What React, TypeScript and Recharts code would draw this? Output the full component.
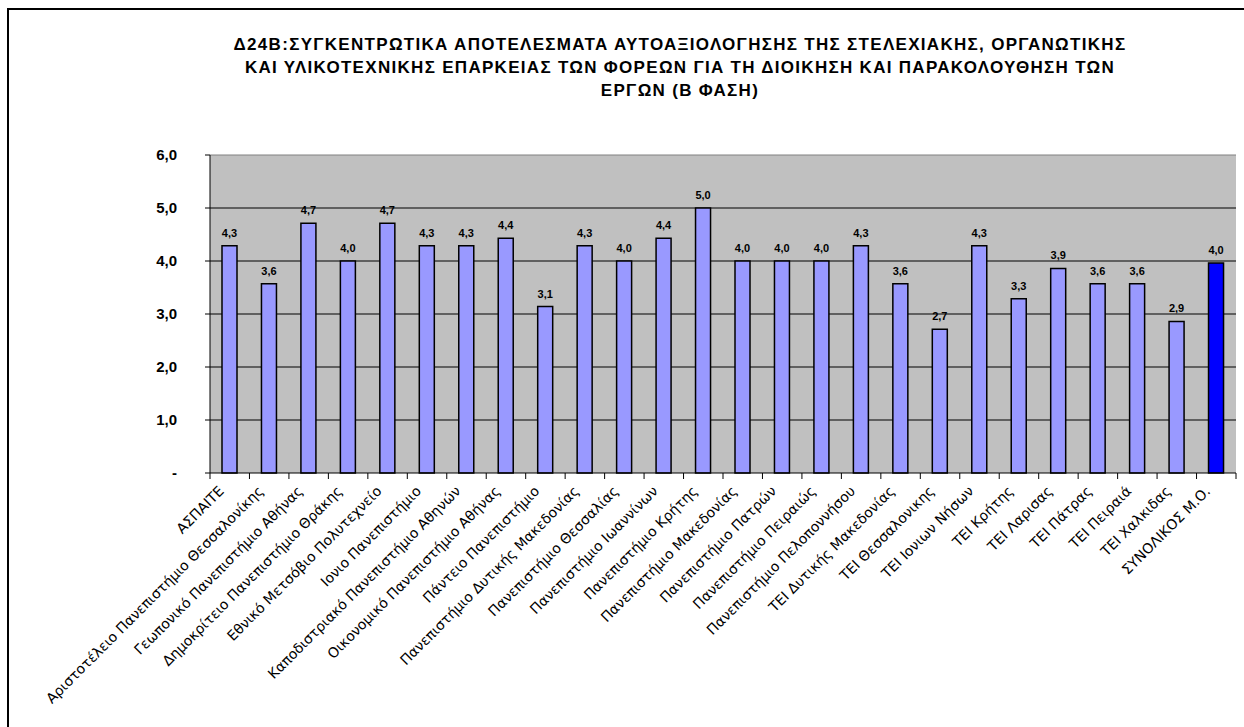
import React from 'react';
import { BarChart, Bar, XAxis, YAxis, CartesianGrid, Cell, LabelList, ReferenceLine } from 'recharts';

const categories = [
  'ΑΣΠΑΙΤΕ',
  'Αριστοτέλειο Πανεπιστήμιο Θεσσαλονίκης',
  'Γεωπονικό Πανεπιστήμιο Αθήνας',
  'Δημοκρίτειο Πανεπιστήμιο Θράκης',
  'Εθνικό Μετσόβιο Πολυτεχνείο',
  'Ιονιο Πανεπιστήμιο',
  'Καποδιστριακό Πανεπιστήμιο Αθηνών',
  'Οικονομικό Πανεπιστήμιο Αθήνας',
  'Πάντειο Πανεπιστήμιο',
  'Πανεπιστήμιο Δυτικής Μακεδονίας',
  'Πανεπιστήμιο Θεσσαλίας',
  'Πανεπιστήμιο Ιωαννίνων',
  'Πανεπιστήμιο Κρήτης',
  'Πανεπιστήμιο Μακεδονίας',
  'Πανεπιστήμιο Πατρών',
  'Πανεπιστήμιο Πειραιώς',
  'Πανεπιστήμιο Πελοποννήσου',
  'ΤΕΙ Δυτικής Μακεδονίας',
  'ΤΕΙ Θεσσαλονικης',
  'ΤΕΙ Ιονιων Νήσων',
  'ΤΕΙ Κρήτης',
  'ΤΕΙ Λαρισας',
  'ΤΕΙ Πάτρας',
  'ΤΕΙ Πειραιά',
  'ΤΕΙ Χαλκιδας',
  'ΣΥΝΟΛΙΚΟΣ Μ.Ο.',
];

const scores = [
  4.29, 3.57, 4.71, 4.0, 4.71, 4.29, 4.29, 4.43, 3.14, 4.29, 4.0, 4.43, 5.0,
  4.0, 4.0, 4.0, 4.29, 3.57, 2.71, 4.29, 3.29, 3.86, 3.57, 3.57, 2.86, 3.96,
];

const yTicks = [0, 1, 2, 3, 4, 5, 6];

const titleLines = [
  'Δ24Β:ΣΥΓΚΕΝΤΡΩΤΙΚΑ ΑΠΟΤΕΛΕΣΜΑΤΑ ΑΥΤΟΑΞΙΟΛΟΓΗΣΗΣ ΤΗΣ ΣΤΕΛΕΧΙΑΚΗΣ, ΟΡΓΑΝΩΤΙΚΗΣ',
  'ΚΑΙ ΥΛΙΚΟΤΕΧΝΙΚΗΣ ΕΠΑΡΚΕΙΑΣ ΤΩΝ ΦΟΡΕΩΝ ΓΙΑ ΤΗ ΔΙΟΙΚΗΣΗ ΚΑΙ ΠΑΡΑΚΟΛΟΥΘΗΣΗ ΤΩΝ',
  'ΕΡΓΩΝ (Β ΦΑΣΗ)',
];

const data = categories.map((name, i) => ({ name, value: scores[i] }));

const fmt = (v: number) => (v === 0 ? '-' : v.toFixed(1).replace('.', ','));

function CategoryTick(props: any) {
  const { x, y, payload, index, visibleTicksCount } = props;
  const off = payload.offset || 0;
  const last = index === (visibleTicksCount ?? categories.length) - 1;
  return (
    <g>
      <line x1={x - off} y1={y} x2={x - off} y2={y + 6} stroke="#000" />
      {last && <line x1={x + off} y1={y} x2={x + off} y2={y + 6} stroke="#000" />}
      <text
        x={0}
        y={0}
        transform={`translate(${x - 5},${y + 19}) rotate(-45)`}
        textAnchor="end"
        fontFamily="'DejaVu Sans', sans-serif"
        fontSize={14}
        fill="#000"
      >
        {payload.value}
      </text>
    </g>
  );
}

export default function App() {
  return (
    <div style={{ position: 'absolute', left: 0, top: 0, width: 1244, height: 727, overflow: 'hidden', background: '#fff' }}>
      <div
        style={{
          position: 'absolute',
          left: 7,
          top: 8,
          width: 1300,
          height: 800,
          border: '2px solid #000',
        }}
      />
      <div
        style={{
          position: 'absolute',
          left: 130,
          top: 33,
          width: 1100,
          textAlign: 'center',
          fontFamily: "'Liberation Sans', Arial, sans-serif",
          fontWeight: 'bold',
          fontSize: 17,
          letterSpacing: '1.3px',
          lineHeight: '23px',
        }}
      >
        {titleLines.map((l) => (
          <div key={l}>{l}</div>
        ))}
      </div>
      <div style={{ position: 'absolute', left: 0, top: 0 }}>
        <BarChart
          width={1244}
          height={727}
          data={data}
          margin={{ top: 155, right: 8, left: 150, bottom: 14 }}
          barCategoryGap={0}
        >
          <CartesianGrid fill="#C0C0C0" stroke="#000" vertical={false} horizontalValues={[1, 2, 3, 4, 5]} />
          <ReferenceLine y={6} stroke="#808080" />
          <XAxis
            dataKey="name"
            interval={0}
            height={240}
            tickSize={0}
            tickMargin={0}
            tickLine={false}
            axisLine={{ stroke: '#000' }}
            tick={<CategoryTick />}
          />
          <YAxis
            domain={[0, 6]}
            ticks={yTicks}
            width={60}
            tickSize={5}
            tickMargin={28}
            tickFormatter={fmt}
            axisLine={{ stroke: '#000' }}
            tickLine={{ stroke: '#000' }}
            tick={{ fontFamily: "'Liberation Sans', Arial, sans-serif", fontWeight: 'bold', fontSize: 15, fill: '#000' }}
          />
          <Bar dataKey="value" barSize={15} stroke="#000" strokeWidth={1.5} isAnimationActive={false}>
            {data.map((d, i) => (
              <Cell key={d.name} fill={i === data.length - 1 ? '#0000FF' : '#9999FF'} />
            ))}
            <LabelList
              dataKey="value"
              position="top"
              offset={9}
              formatter={(v: any) => fmt(Number(v))}
              style={{ fontFamily: "'Liberation Sans', Arial, sans-serif", fontWeight: 'bold', fontSize: 11, fill: '#000' }}
            />
          </Bar>
        </BarChart>
      </div>
    </div>
  );
}
